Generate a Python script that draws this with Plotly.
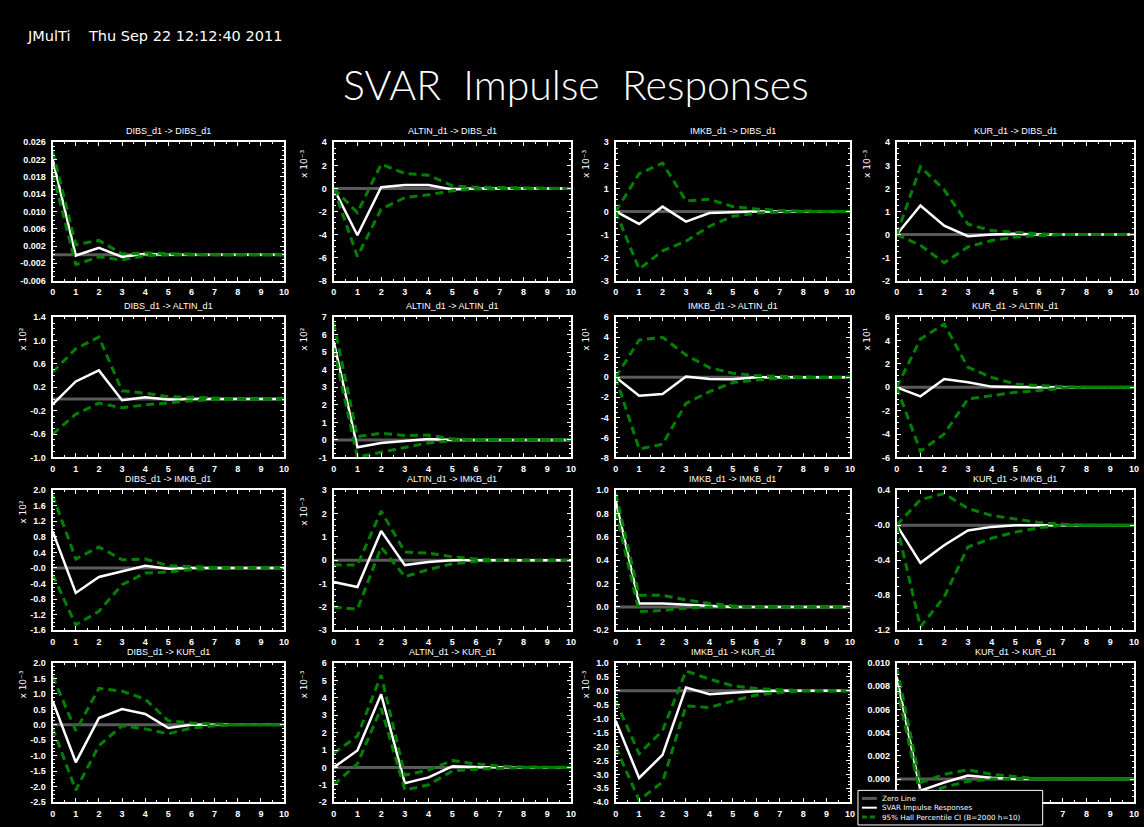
import plotly.graph_objects as go

W, H = 1144, 827
horizons = list(range(11))
variables = ["DIBS_d1", "ALTIN_d1", "IMKB_d1", "KUR_d1"]

# ---- Response of DIBS_d1 ----
irf_DIBS_DIBS = [0.0221, -0.0002, 0.0016, -0.0005, 0.0002, 0.0, 0.0, 0.0, 0.0, 0.0, 0.0]
hi_DIBS_DIBS = [0.0239, 0.0023, 0.0033, 0.0002, 0.0004, 0.0002, 0.0001, 0.0, 0.0, 0.0, 0.0]
lo_DIBS_DIBS = [0.0190, -0.0023, -0.0005, -0.0012, -0.0002, 0.0, 0.0, 0.0, 0.0, 0.0, 0.0]

irf_ALTIN_DIBS = [0.0, -4.06, 0.1, 0.3, 0.3, -0.1, 0.0, 0.0, 0.0, 0.0, 0.0]
hi_ALTIN_DIBS = [0.0, -2.1, 2.1, 1.3, 1.15, 0.23, 0.1, 0.08, 0.03, 0.0, 0.0]
lo_ALTIN_DIBS = [0.0, -5.9, -1.8, -0.8, -0.55, -0.2, -0.05, -0.03, 0.0, 0.0, 0.0]

irf_IMKB_DIBS = [0.0, -0.54, 0.21, -0.44, -0.07, -0.03, 0.0, 0.0, 0.0, 0.0, 0.0]
hi_IMKB_DIBS = [0.0, 1.64, 2.1, 0.46, 0.53, 0.21, 0.11, 0.04, 0.02, 0.0, 0.0]
lo_IMKB_DIBS = [0.0, -2.5, -1.71, -1.29, -0.64, -0.21, -0.07, -0.03, 0.0, 0.0, 0.0]

irf_KUR_DIBS = [0.0, 1.26, 0.38, -0.07, 0.0, 0.03, 0.0, 0.0, 0.0, 0.0, 0.0]
hi_KUR_DIBS = [0.0, 2.94, 1.94, 0.45, 0.17, 0.1, 0.03, 0.0, 0.0, 0.0, 0.0]
lo_KUR_DIBS = [0.0, -0.47, -1.22, -0.54, -0.26, -0.11, -0.04, 0.0, 0.0, 0.0, 0.0]

# ---- Response of ALTIN_d1 ----
irf_DIBS_ALTIN = [-0.09, 0.30, 0.49, -0.02, 0.03, -0.01, 0.0, 0.0, 0.0, 0.0, 0.0]
hi_DIBS_ALTIN = [0.46, 0.86, 1.06, 0.14, 0.10, 0.04, 0.03, 0.01, 0.0, 0.0, 0.0]
lo_DIBS_ALTIN = [-0.60, -0.26, -0.07, -0.15, -0.10, -0.06, -0.03, -0.01, 0.0, 0.0, 0.0]

irf_ALTIN_ALTIN = [5.63, -0.42, -0.17, -0.08, 0.05, 0.0, 0.0, 0.0, 0.0, 0.0, 0.0]
hi_ALTIN_ALTIN = [6.67, 0.19, 0.38, 0.25, 0.28, 0.06, 0.02, 0.0, 0.0, 0.0, 0.0]
lo_ALTIN_ALTIN = [5.25, -0.98, -0.70, -0.42, -0.17, -0.04, 0.0, 0.0, 0.0, 0.0, 0.0]

irf_IMKB_ALTIN = [0.0, -1.83, -1.66, 0.07, -0.17, -0.2, 0.0, 0.0, 0.0, 0.0, 0.0]
hi_IMKB_ALTIN = [0.0, 3.72, 3.99, 2.23, 0.96, 0.4, 0.17, 0.07, 0.02, 0.0, 0.0]
lo_IMKB_ALTIN = [0.0, -7.15, -6.68, -2.6, -1.43, -0.53, -0.27, -0.1, -0.03, 0.0, 0.0]

irf_KUR_ALTIN = [0.0, -0.77, 0.71, 0.43, 0.06, 0.0, 0.0, 0.0, 0.0, 0.0, 0.0]
hi_KUR_ALTIN = [0.0, 4.13, 5.41, 1.71, 0.85, 0.28, 0.14, 0.05, 0.0, 0.0, 0.0]
lo_KUR_ALTIN = [0.0, -5.47, -3.99, -1.0, -0.71, -0.43, -0.28, -0.06, 0.0, 0.0, 0.0]

# ---- Response of IMKB_d1 ----
irf_DIBS_IMKB = [0.94, -0.64, -0.23, -0.09, 0.06, -0.02, 0.0, 0.0, 0.0, 0.0, 0.0]
hi_DIBS_IMKB = [1.87, 0.23, 0.54, 0.21, 0.23, 0.06, 0.04, 0.01, 0.0, 0.0, 0.0]
lo_DIBS_IMKB = [-0.17, -1.46, -1.11, -0.43, -0.13, -0.10, -0.04, -0.01, 0.0, 0.0, 0.0]

irf_ALTIN_IMKB = [-0.93, -1.15, 1.25, -0.21, -0.08, 0.0, 0.0, 0.0, 0.0, 0.0, 0.0]
hi_ALTIN_IMKB = [-0.2, -0.2, 2.1, 0.35, 0.3, 0.15, 0.05, 0.0, 0.0, 0.0, 0.0]
lo_ALTIN_IMKB = [-2.0, -2.1, 0.55, -0.7, -0.4, -0.15, -0.05, 0.0, 0.0, 0.0, 0.0]

irf_IMKB_IMKB = [0.91, 0.03, 0.03, 0.02, 0.01, 0.0, 0.0, 0.0, 0.0, 0.0, 0.0]
hi_IMKB_IMKB = [0.97, 0.10, 0.10, 0.06, 0.03, 0.01, 0.0, 0.0, 0.0, 0.0, 0.0]
lo_IMKB_IMKB = [0.82, -0.04, -0.03, -0.01, 0.0, 0.0, 0.0, 0.0, 0.0, 0.0, 0.0]

irf_KUR_IMKB = [0.0, -0.43, -0.23, -0.06, -0.02, 0.0, 0.0, 0.0, 0.0, 0.0, 0.0]
hi_KUR_IMKB = [0.0, 0.29, 0.36, 0.19, 0.11, 0.07, 0.03, 0.01, 0.0, 0.0, 0.0]
lo_KUR_IMKB = [0.0, -1.16, -0.82, -0.25, -0.15, -0.08, -0.03, 0.0, 0.0, 0.0, 0.0]

# ---- Response of KUR_d1 ----
irf_DIBS_KUR = [0.77, -1.21, 0.22, 0.51, 0.35, -0.10, 0.0, 0.0, 0.0, 0.0, 0.0]
hi_DIBS_KUR = [1.57, -0.19, 1.18, 1.09, 0.83, 0.13, 0.06, 0.02, 0.0, 0.0, 0.0]
lo_DIBS_KUR = [-0.10, -2.11, -0.67, -0.03, -0.13, -0.29, -0.10, -0.03, 0.0, 0.0, 0.0]

irf_ALTIN_KUR = [0.0, 0.97, 4.2, -0.91, -0.57, 0.06, 0.02, 0.0, 0.0, 0.0, 0.0]
hi_ALTIN_KUR = [0.8, 1.8, 5.3, -0.45, -0.15, 0.4, 0.2, 0.08, 0.03, 0.0, 0.0]
lo_ALTIN_KUR = [-1.0, 0.2, 3.4, -1.3, -1.0, -0.2, -0.1, -0.05, 0.0, 0.0, 0.0]

irf_IMKB_KUR = [-1.07, -3.13, -2.30, 0.12, -0.12, -0.06, -0.02, 0.0, 0.0, 0.0, 0.0]
hi_IMKB_KUR = [-0.36, -2.26, -1.43, 0.71, 0.42, 0.18, 0.08, 0.04, 0.0, 0.0, 0.0]
lo_IMKB_KUR = [-2.02, -3.93, -3.27, -0.54, -0.60, -0.36, -0.15, -0.06, 0.0, 0.0, 0.0]

irf_KUR_KUR = [0.0088, -0.0010, -0.0003, 0.0003, 0.0001, 0.0, 0.0, 0.0, 0.0, 0.0, 0.0]
hi_KUR_KUR = [0.0096, -0.0003, 0.0004, 0.0008, 0.0004, 0.0002, 0.0, 0.0, 0.0, 0.0, 0.0]
lo_KUR_KUR = [0.0079, -0.0014, -0.0007, -0.0002, 0.0, 0.0, 0.0, 0.0, 0.0, 0.0, 0.0]

# y-axis tick labels per panel (row-major)
ticks_DIBS_DIBS = ["-0.006", "-0.002", "0.002", "0.006", "0.010", "0.014", "0.018", "0.022", "0.026"]
ticks_ALTIN_DIBS = ["-8", "-6", "-4", "-2", "0", "2", "4"]
ticks_IMKB_DIBS = ["-3", "-2", "-1", "0", "1", "2", "3"]
ticks_KUR_DIBS = ["-2", "-1", "0", "1", "2", "3", "4"]
ticks_DIBS_ALTIN = ["-1.0", "-0.6", "-0.2", "0.2", "0.6", "1.0", "1.4"]
ticks_ALTIN_ALTIN = ["-1", "0", "1", "2", "3", "4", "5", "6", "7"]
ticks_IMKB_ALTIN = ["-8", "-6", "-4", "-2", "0", "2", "4", "6"]
ticks_KUR_ALTIN = ["-6", "-4", "-2", "0", "2", "4", "6"]
ticks_DIBS_IMKB = ["-1.6", "-1.2", "-0.8", "-0.4", "-0.0", "0.4", "0.8", "1.2", "1.6", "2.0"]
ticks_ALTIN_IMKB = ["-3", "-2", "-1", "0", "1", "2", "3"]
ticks_IMKB_IMKB = ["-0.2", "0.0", "0.2", "0.4", "0.6", "0.8", "1.0"]
ticks_KUR_IMKB = ["-1.2", "-0.8", "-0.4", "-0.0", "0.4"]
ticks_DIBS_KUR = ["-2.5", "-2.0", "-1.5", "-1.0", "-0.5", "0.0", "0.5", "1.0", "1.5", "2.0"]
ticks_ALTIN_KUR = ["-2", "-1", "0", "1", "2", "3", "4", "5", "6"]
ticks_IMKB_KUR = ["-4.0", "-3.5", "-3.0", "-2.5", "-2.0", "-1.5", "-1.0", "-0.5", "0.0", "0.5", "1.0"]
ticks_KUR_KUR = ["-0.002", "0.000", "0.002", "0.004", "0.006", "0.008", "0.010"]

# scale multipliers shown beside the y axis (None = none)
multipliers = [None, "x 10⁻³", "x 10⁻³", "x 10⁻³",
               "x 10²", "x 10²", "x 10¹", "x 10¹",
               "x 10²", "x 10⁻³", None, None,
               "x 10⁻³", "x 10⁻³", "x 10⁻³", None]

panels = [
    (irf_DIBS_DIBS, hi_DIBS_DIBS, lo_DIBS_DIBS, ticks_DIBS_DIBS),
    (irf_ALTIN_DIBS, hi_ALTIN_DIBS, lo_ALTIN_DIBS, ticks_ALTIN_DIBS),
    (irf_IMKB_DIBS, hi_IMKB_DIBS, lo_IMKB_DIBS, ticks_IMKB_DIBS),
    (irf_KUR_DIBS, hi_KUR_DIBS, lo_KUR_DIBS, ticks_KUR_DIBS),
    (irf_DIBS_ALTIN, hi_DIBS_ALTIN, lo_DIBS_ALTIN, ticks_DIBS_ALTIN),
    (irf_ALTIN_ALTIN, hi_ALTIN_ALTIN, lo_ALTIN_ALTIN, ticks_ALTIN_ALTIN),
    (irf_IMKB_ALTIN, hi_IMKB_ALTIN, lo_IMKB_ALTIN, ticks_IMKB_ALTIN),
    (irf_KUR_ALTIN, hi_KUR_ALTIN, lo_KUR_ALTIN, ticks_KUR_ALTIN),
    (irf_DIBS_IMKB, hi_DIBS_IMKB, lo_DIBS_IMKB, ticks_DIBS_IMKB),
    (irf_ALTIN_IMKB, hi_ALTIN_IMKB, lo_ALTIN_IMKB, ticks_ALTIN_IMKB),
    (irf_IMKB_IMKB, hi_IMKB_IMKB, lo_IMKB_IMKB, ticks_IMKB_IMKB),
    (irf_KUR_IMKB, hi_KUR_IMKB, lo_KUR_IMKB, ticks_KUR_IMKB),
    (irf_DIBS_KUR, hi_DIBS_KUR, lo_DIBS_KUR, ticks_DIBS_KUR),
    (irf_ALTIN_KUR, hi_ALTIN_KUR, lo_ALTIN_KUR, ticks_ALTIN_KUR),
    (irf_IMKB_KUR, hi_IMKB_KUR, lo_IMKB_KUR, ticks_IMKB_KUR),
    (irf_KUR_KUR, hi_KUR_KUR, lo_KUR_KUR, ticks_KUR_KUR),
]

legend_labels = ["Zero Line", "SVAR Impulse Responses", "95% Hall Percentile CI (B=2000 h=10)"]

# layout (pixels)
col_px = [(50, 283), (333, 572), (617, 853), (900, 1139)]
row_px = [(139, 279), (316, 458), (491, 633), (666, 807)]

GREEN = "#007f00"
ZERO = "#5a5a5a"
FONT = "Liberation Sans, Arial, sans-serif"

# legend box (pixels) -- it covers the lower-left corner of the last panel, as in the original
lx0, ly0, lx1, ly1 = 861, 795, 1047, 830

fig = go.Figure()
layout = dict(
    width=W, height=H,
    margin=dict(l=0, r=0, t=0, b=0),
    paper_bgcolor="black", plot_bgcolor="black",
    showlegend=False,
    font=dict(family=FONT, color="white", size=9),
)
annotations = []
shapes = []


def px_x(p):
    return p / W


def px_y(p):
    return 1 - p / H


for i, (irf, hi, lo, tlabels) in enumerate(panels):
    r, c = divmod(i, 4)
    n = i + 1
    xs = "" if n == 1 else str(n)
    (x0, x1), (y0, y1) = col_px[c], row_px[r]
    tvals = [float(t) for t in tlabels]
    step = tvals[1] - tvals[0]
    xticks = list(horizons)
    xlabels = [str(h) for h in horizons]
    yticks = list(tvals)
    ylabels = list(tlabels)
    if i == len(panels) - 1:
        # labels hidden beneath the legend box in the original are not drawn
        keep = [k for k, h in enumerate(horizons) if x0 + (x1 - x0) * h / 10 > lx1 + 4]
        xticks = [horizons[k] for k in keep]
        xlabels = [xlabels[k] for k in keep]
        yticks = yticks[1:]
        ylabels = ylabels[1:]
    ax_common = dict(
        showgrid=False, zeroline=False, showline=True, linecolor="white", linewidth=2,
        mirror="allticks", ticks="inside", tickcolor="white", ticklen=4, tickwidth=1,
        tickfont=dict(family=FONT, size=9, color="white", weight="bold"),
    )
    layout["xaxis" + xs] = dict(
        ax_common, domain=[px_x(x0), px_x(x1)], range=[0, 10], anchor="y" + xs,
        tickvals=xticks, ticktext=xlabels, ticklabelstandoff=2,
        minor=dict(ticks="inside", ticklen=2, tickcolor="white", dtick=0.5, tick0=0),
    )
    layout["yaxis" + xs] = dict(
        ax_common, domain=[px_y(y1), px_y(y0)], range=[tvals[0], tvals[-1]], anchor="x" + xs,
        tickvals=yticks, ticktext=ylabels, ticklabelstandoff=3,
        minor=dict(ticks="inside", ticklen=2, tickcolor="white", dtick=step / 4, tick0=tvals[0]),
    )
    fig.add_trace(go.Scatter(x=[horizons[0], horizons[-1]], y=[0, 0], mode="lines",
                             line=dict(color=ZERO, width=3), name=legend_labels[0],
                             xaxis="x" + xs, yaxis="y" + xs, hoverinfo="skip"))
    fig.add_trace(go.Scatter(x=horizons, y=irf, mode="lines", line=dict(color="white", width=2.5),
                             name=legend_labels[1], xaxis="x" + xs, yaxis="y" + xs))
    for band in (hi, lo):
        fig.add_trace(go.Scatter(x=horizons, y=band, mode="lines",
                                 line=dict(color=GREEN, width=3, dash="8px,5px"),
                                 name=legend_labels[2], xaxis="x" + xs, yaxis="y" + xs))
    imp = variables[c]
    resp = variables[r]
    annotations.append(dict(text=f"{imp} -> {resp}", x=px_x((x0 + x1) / 2), y=px_y(y0 - 11),
                            xref="paper", yref="paper", showarrow=False, xanchor="center",
                            yanchor="middle", font=dict(size=9, color="white", family=FONT)))
    if multipliers[i] is not None:
        annotations.append(dict(text=multipliers[i], x=px_x(x0 - 30),
                                y=px_y(y0 + 22), xref="paper", yref="paper", showarrow=False,
                                textangle=-90, xanchor="center", yanchor="middle",
                                font=dict(size=9, color="white", family="DejaVu Sans, sans-serif")))

# header texts
annotations.append(dict(text="JMulTi&nbsp;&nbsp;&nbsp;&nbsp;Thu Sep 22 12:12:40 2011", x=px_x(22), y=px_y(31),
                        xref="paper", yref="paper", showarrow=False, xanchor="left", yanchor="middle",
                        font=dict(size=14.5, color="white", family="DejaVu Sans, sans-serif")))
annotations.append(dict(text="SVAR  Impulse  Responses", x=px_x(577), y=px_y(80),
                        xref="paper", yref="paper", showarrow=False, xanchor="center", yanchor="middle",
                        font=dict(size=41, color="white", family="DejaVu Sans ExtraLight, Lato, sans-serif",
                                  weight=300)))

# manual legend box
shapes.append(dict(type="rect", xref="paper", yref="paper", x0=px_x(lx0), x1=px_x(lx1),
                   y0=px_y(ly1), y1=px_y(ly0), line=dict(color="white", width=1), fillcolor="black",
                   layer="above"))
legend_styles = [(ZERO, 3, "solid"), ("white", 2, "solid"), (GREEN, 3, "5px,3px")]
leg_font = 7.2
row_gap = 1.3 * leg_font
mid_y = 812.5
for k, (col, wdt, dsh) in enumerate(legend_styles):
    yy = mid_y + (k - 1) * row_gap
    shapes.append(dict(type="line", xref="paper", yref="paper", x0=px_x(865), x1=px_x(880),
                       y0=px_y(yy), y1=px_y(yy), layer="above",
                       line=dict(color=col, width=wdt, dash=dsh)))
annotations.append(dict(text="<br>".join(legend_labels), x=px_x(883), y=px_y(mid_y),
                        xref="paper", yref="paper", showarrow=False, xanchor="left", yanchor="middle",
                        align="left", font=dict(size=leg_font, color="white", family="DejaVu Sans, sans-serif")))

layout["annotations"] = annotations
layout["shapes"] = shapes
fig.update_layout(**layout)
fig.write_html("out.html")
